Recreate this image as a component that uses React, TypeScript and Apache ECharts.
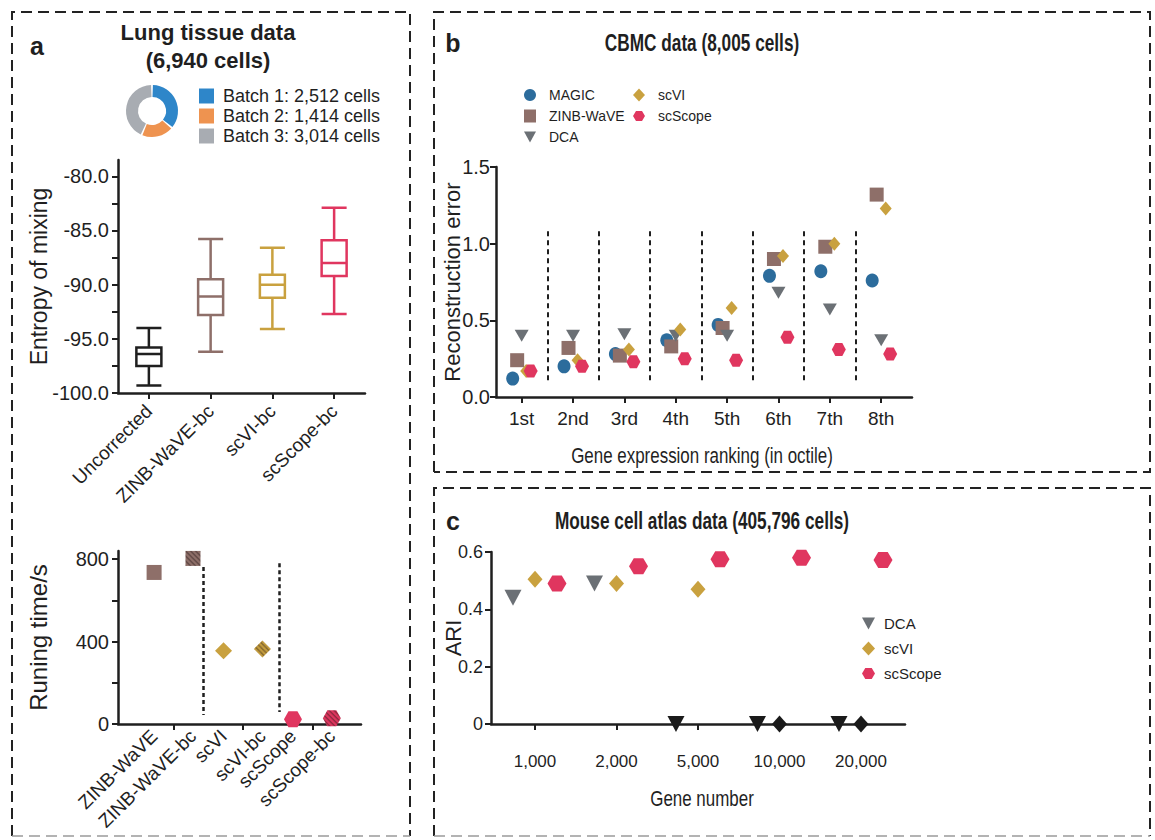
import React, { useEffect, useRef } from 'react';
import * as echarts from 'echarts';

const FONT = "'Liberation Sans', Arial, Helvetica, sans-serif";
const INK = '#1f1f1f';

// ---------- Panel a: batch donut ----------
const batchLabels = ['Batch 1: 2,512 cells', 'Batch 2: 1,414 cells', 'Batch 3: 3,014 cells'];
const batchCells = [2512, 1414, 3014];
const batchColors = ['#2E86C9', '#EE9350', '#A8ACB2'];

// ---------- Panel a: entropy of mixing boxplot [min, Q1, median, Q3, max] ----------
const boxCategories = ['Uncorrected', 'ZINB-WaVE-bc', 'scVI-bc', 'scScope-bc'];
const boxUncorrected = [-99.3, -97.5, -96.4, -95.8, -94.0];
const boxZinbBc = [-96.2, -92.8, -91.1, -89.5, -85.8];
const boxScviBc = [-94.1, -91.2, -90.0, -89.1, -86.6];
const boxScscopeBc = [-92.7, -89.2, -88.0, -85.9, -82.9];
const boxColors = ['#1f1f1f', '#8E6F69', '#C9A13F', '#E0365F'];
const entropyTickValues = [-100, -97.5, -95, -92.5, -90, -87.5, -85, -82.5, -80];
const entropyLabelValues = [-100, -95, -90, -85, -80];

// ---------- Panel a: running time ----------
const rtMethods = ['ZINB-WaVE', 'ZINB-WaVE-bc', 'scVI', 'scVI-bc', 'scScope', 'scScope-bc'];
const rtSeconds = [735, 803, 355, 364, 23, 28];
const rtTickValues = [0, 200, 400, 600, 800];
const rtLabelValues = [0, 400, 800];

// ---------- Panel b: CBMC reconstruction error ----------
const octiles = ['1st', '2nd', '3rd', '4th', '5th', '6th', '7th', '8th'];
const magicErr = [0.12, 0.2, 0.28, 0.37, 0.47, 0.79, 0.82, 0.76];
const zinbErr = [0.24, 0.32, 0.27, 0.33, 0.45, 0.9, 0.98, 1.32];
const dcaErr = [0.4, 0.4, 0.41, 0.4, 0.4, 0.68, 0.57, 0.37];
const scviErr = [0.17, 0.24, 0.31, 0.44, 0.58, 0.92, 1.0, 1.23];
const scscopeErr = [0.17, 0.2, 0.23, 0.25, 0.24, 0.39, 0.31, 0.28];
const errTicks = [0, 0.5, 1.0, 1.5];

// ---------- Panel c: mouse cell atlas ARI ----------
const geneNumbers = ['1,000', '2,000', '5,000', '10,000', '20,000'];
const dcaAri = [0.44, 0.49, 0, 0, 0];
const scviAri = [0.505, 0.49, 0.47, 0, 0];
const scscopeAri = [0.49, 0.55, 0.575, 0.58, 0.572];
const ariTicks = [0, 0.2, 0.4, 0.6];

// ---------- styles ----------
const TRI_DOWN = 'path://M0,0L12,0L6,11Z';
const HEX = 'path://M0,5L3,0L9,0L12,5L9,10L3,10Z';
const C_MAGIC = '#2C6C9C';
const C_ZINB = '#8E6F69';
const C_DCA = '#6B7075';
const C_SCVI = '#C9A13F';
const C_SCSCOPE = '#E0365F';
const ZERO_COLOR = '#1a1a1a';

// diagonal hatch; symbols are drawn in a [-1, 1] box scaled by size / 2,
// so the pattern is scaled back to screen pixels
function hatchPattern(base: string, stripe: string, size: number | number[]) {
  const w = Array.isArray(size) ? size[0] : size;
  const h = Array.isArray(size) ? size[1] : size;
  const c = document.createElement('canvas');
  c.width = 5;
  c.height = 5;
  const g = c.getContext('2d');
  if (!g) return base;
  g.fillStyle = base;
  g.fillRect(0, 0, 5, 5);
  g.strokeStyle = stripe;
  g.lineWidth = 1.1;
  g.beginPath();
  g.moveTo(-1, -1);
  g.lineTo(6, 6);
  g.moveTo(-1, 4);
  g.lineTo(1, 6);
  g.moveTo(4, -1);
  g.lineTo(6, 1);
  g.stroke();
  return {
    image: c,
    repeat: 'repeat',
    imageWidth: 5,
    imageHeight: 5,
    scaleX: 2 / w,
    scaleY: 2 / h,
  } as any;
}

const axisLineStyle = { show: true, lineStyle: { color: INK, width: 2.5 } };
const tickStyle = { show: true, length: 6, lineStyle: { color: INK, width: 2 } };

function buildOption() {
  const rtSide = 0.28;
  const rtPos = rtMethods.map((_, i) => Math.floor(i / 2) + 1 + (i % 2 === 0 ? -rtSide : rtSide));
  const rtColors = [C_ZINB, C_ZINB, C_SCVI, C_SCVI, C_SCSCOPE, C_SCSCOPE];
  const rtSymbols = ['rect', 'rect', 'diamond', 'diamond', HEX, HEX];
  const rtSizes: any[] = [15, 15, [17, 17], [17, 17], [18, 16], [18, 16]];
  const nearestRt = (v: number) => {
    let best = 0;
    rtPos.forEach((p, i) => {
      if (Math.abs(p - v) < Math.abs(rtPos[best] - v)) best = i;
    });
    return rtMethods[best];
  };

  const bSpec = [
    { name: 'MAGIC', vals: magicErr, symbol: 'circle', size: [13, 14], color: C_MAGIC },
    { name: 'ZINB-WaVE', vals: zinbErr, symbol: 'rect', size: [14, 14], color: C_ZINB },
    { name: 'DCA', vals: dcaErr, symbol: TRI_DOWN, size: [14, 12], color: C_DCA },
    { name: 'scVI', vals: scviErr, symbol: 'diamond', size: [12, 14], color: C_SCVI },
    { name: 'scScope', vals: scscopeErr, symbol: HEX, size: [14, 13], color: C_SCSCOPE },
  ];
  const bOffsets = [-0.175, -0.088, 0, 0.088, 0.175];

  const cSpec = [
    { name: 'DCA', vals: dcaAri, symbol: TRI_DOWN, size: [17, 16], color: C_DCA },
    { name: 'scVI', vals: scviAri, symbol: 'diamond', size: [15, 17], color: C_SCVI },
    { name: 'scScope', vals: scscopeAri, symbol: HEX, size: [19, 16], color: C_SCSCOPE },
  ];
  const cOffsets = [-0.27, 0, 0.27];

  const bSeparators = octiles.slice(1).map((_, i) => [
    { coord: [i + 1.5, 0.11] },
    { coord: [i + 1.5, 1.1] },
  ]);

  const text = (t: string, x: number, y: number, size: number, weight = 'normal', scaleX = 1) => ({
    type: 'text',
    x,
    y,
    scaleX,
    silent: true,
    style: {
      text: t,
      fontSize: size,
      fontFamily: FONT,
      fontWeight: weight,
      fill: INK,
      align: 'center',
      verticalAlign: 'middle',
      textAlign: 'center',
      textVerticalAlign: 'middle',
    },
  });

  const dashed = (pts: number[][], color = '#222', width = 2) => ({
    type: 'polyline',
    silent: true,
    shape: { points: pts },
    style: { stroke: color, lineWidth: width, lineDash: [11, 6], fill: null },
  });

  return {
    animation: false,
    backgroundColor: '#fff',
    textStyle: { fontFamily: FONT, color: INK },
    grid: [
      { left: 118, top: 160, width: 247, height: 233 },
      { left: 118, top: 551, width: 243, height: 173 },
      { left: 496, top: 167, width: 416, height: 230 },
      { left: 491, top: 552, width: 414, height: 172 },
    ],
    xAxis: [
      {
        gridIndex: 0,
        type: 'category',
        data: boxCategories,
        axisLine: axisLineStyle,
        axisTick: { ...tickStyle, alignWithLabel: true },
        axisLabel: { rotate: 45, interval: 0, fontSize: 19, margin: 15, color: INK, fontFamily: FONT },
        splitLine: { show: false },
      },
      {
        gridIndex: 1,
        type: 'value',
        min: 0.2,
        max: 3.7,
        axisLine: axisLineStyle,
        axisTick: { ...tickStyle, customValues: [1, 2, 3] },
        axisLabel: {
          customValues: rtPos,
          rotate: 45,
          fontSize: 19,
          margin: 9,
          color: INK,
          fontFamily: FONT,
          formatter: (v: number) => nearestRt(v),
        },
        splitLine: { show: false },
      },
      {
        gridIndex: 2,
        type: 'value',
        min: 0.5,
        max: 8.6,
        axisLine: axisLineStyle,
        axisTick: { ...tickStyle, customValues: octiles.map((_, i) => i + 1) },
        axisLabel: {
          customValues: octiles.map((_, i) => i + 1),
          fontSize: 19,
          margin: 12,
          color: INK,
          fontFamily: FONT,
          formatter: (v: number) => octiles[Math.round(v) - 1] ?? '',
        },
        splitLine: { show: false },
      },
      {
        gridIndex: 3,
        type: 'value',
        min: 0.46,
        max: 5.54,
        axisLine: axisLineStyle,
        axisTick: { ...tickStyle, customValues: geneNumbers.map((_, i) => i + 1) },
        axisLabel: {
          customValues: geneNumbers.map((_, i) => i + 1),
          fontSize: 17,
          margin: 29,
          color: INK,
          fontFamily: FONT,
          formatter: (v: number) => geneNumbers[Math.round(v) - 1] ?? '',
        },
        splitLine: { show: false },
      },
    ],
    yAxis: [
      {
        gridIndex: 0,
        type: 'value',
        min: -100,
        max: -78.5,
        axisLine: axisLineStyle,
        axisTick: { ...tickStyle, customValues: entropyTickValues },
        axisLabel: {
          customValues: entropyLabelValues,
          fontSize: 20,
          margin: 9,
          color: INK,
          fontFamily: FONT,
          formatter: (v: number) => v.toFixed(1),
        },
        splitLine: { show: false },
        name: 'Entropy of mixing',
        nameLocation: 'middle',
        nameGap: 68,
        nameMoveOverlap: false,
        nameTextStyle: { fontSize: 23, fontFamily: FONT, color: INK },
      },
      {
        gridIndex: 1,
        type: 'value',
        min: 0,
        max: 839,
        axisLine: axisLineStyle,
        axisTick: { ...tickStyle, customValues: rtTickValues },
        axisLabel: {
          customValues: rtLabelValues,
          fontSize: 20,
          margin: 9,
          color: INK,
          fontFamily: FONT,
        },
        splitLine: { show: false },
        name: 'Runing time/s',
        nameLocation: 'middle',
        nameGap: 68,
        nameMoveOverlap: false,
        nameTextStyle: { fontSize: 24, fontFamily: FONT, color: INK },
      },
      {
        gridIndex: 2,
        type: 'value',
        min: 0,
        max: 1.5,
        axisLine: axisLineStyle,
        axisTick: { ...tickStyle, customValues: errTicks },
        axisLabel: {
          customValues: errTicks,
          fontSize: 20,
          margin: 6,
          color: INK,
          fontFamily: FONT,
          formatter: (v: number) => v.toFixed(1),
        },
        splitLine: { show: false },
        name: 'Reconstruction error',
        nameLocation: 'middle',
        nameGap: 33,
        nameMoveOverlap: false,
        nameTextStyle: { fontSize: 22, fontFamily: FONT, color: INK },
      },
      {
        gridIndex: 3,
        type: 'value',
        min: 0,
        max: 0.6,
        axisLine: axisLineStyle,
        axisTick: { ...tickStyle, customValues: ariTicks },
        axisLabel: {
          customValues: ariTicks,
          fontSize: 18,
          margin: 8,
          color: INK,
          fontFamily: FONT,
          formatter: (v: number) => (v === 0 ? '0' : v.toFixed(1)),
        },
        splitLine: { show: false },
        name: 'ARI',
        nameLocation: 'middle',
        nameGap: 27,
        nameMoveOverlap: false,
        nameTextStyle: { fontSize: 22, fontFamily: FONT, color: INK },
      },
    ],
    legend: [
      {
        data: batchLabels,
        orient: 'vertical',
        left: 194,
        top: 82,
        itemWidth: 15,
        itemHeight: 15,
        itemGap: 2,
        icon: 'rect',
        selectedMode: false,
        textStyle: { fontFamily: FONT, fontSize: 18, color: INK, padding: [0, 0, 0, 4] },
      },
      {
        data: ['MAGIC', 'ZINB-WaVE', 'DCA'],
        orient: 'vertical',
        left: 519,
        top: 83,
        itemWidth: 12,
        itemHeight: 13,
        itemGap: 7,
        selectedMode: false,
        textStyle: { fontFamily: FONT, fontSize: 14, color: INK, padding: [0, 0, 0, 8] },
      },
      {
        data: ['scVI', 'scScope'],
        orient: 'vertical',
        left: 628,
        top: 83,
        itemWidth: 12,
        itemHeight: 13,
        itemGap: 7,
        selectedMode: false,
        textStyle: { fontFamily: FONT, fontSize: 14, color: INK, padding: [0, 0, 0, 8] },
      },
      {
        data: ['DCA', 'scVI', 'scScope'],
        orient: 'vertical',
        left: 857,
        top: 611,
        itemWidth: 13,
        itemHeight: 14,
        itemGap: 10,
        selectedMode: false,
        textStyle: { fontFamily: FONT, fontSize: 15, color: INK, padding: [0, 0, 0, 4] },
      },
    ],
    graphic: [
      // dashed panel borders
      dashed([[12, 836], [12, 12], [410, 12], [410, 836]]),
      dashed([[12, 836], [410, 836]], '#9a9a9a', 1.5),
      dashed([[434, 472], [434, 12], [1150, 12], [1150, 472], [434, 472]]),
      dashed([[434, 836], [434, 488], [1150, 488], [1150, 836]]),
      dashed([[434, 836], [1150, 836]], '#9a9a9a', 1.5),
      // panel letters & titles
      text('a', 37, 46, 25, 'bold'),
      text('Lung tissue data', 208, 32, 22, 'bold'),
      text('(6,940 cells)', 208, 60, 22, 'bold'),
      text('b', 453, 43, 25, 'bold'),
      text('CBMC data (8,005 cells)', 702, 43, 23, 'bold', 0.75),
      text('c', 453, 521, 25, 'bold'),
      text('Mouse cell atlas data (405,796 cells)', 702, 521, 23, 'bold', 0.75),
      // x-axis titles of panels b and c
      text('Gene expression ranking (in octile)', 702, 455, 22, 'normal', 0.77),
      text('Gene number', 702, 798, 22, 'normal', 0.77),
    ],
    series: [
      {
        type: 'pie',
        silent: true,
        center: [152, 111],
        radius: [14, 26],
        startAngle: 90,
        clockwise: true,
        padAngle: 4,
        label: { show: false },
        labelLine: { show: false },
        data: batchLabels.map((n, i) => ({
          name: n,
          value: batchCells[i],
          itemStyle: { color: batchColors[i] },
        })),
      },
      {
        type: 'boxplot',
        name: 'Entropy',
        silent: true,
        xAxisIndex: 0,
        yAxisIndex: 0,
        boxWidth: [25, 25],
        data: [boxUncorrected, boxZinbBc, boxScviBc, boxScscopeBc].map((s, i) => ({
          value: s,
          itemStyle: { color: '#fff', borderColor: boxColors[i], borderWidth: 2.5 },
        })),
      },
      {
        type: 'scatter',
        name: 'runtime',
        silent: true,
        xAxisIndex: 1,
        yAxisIndex: 1,
        data: rtSeconds.map((v, i) => ({
          value: [rtPos[i], v],
          symbol: rtSymbols[i],
          symbolSize: rtSizes[i],
          itemStyle: {
            color:
              i % 2 === 1
                ? hatchPattern(rtColors[i], 'rgba(40,25,25,0.6)', rtSizes[i])
                : rtColors[i],
            opacity: 1,
          },
        })),
        markLine: {
          silent: true,
          symbol: ['none', 'none'],
          label: { show: false },
          lineStyle: { color: INK, width: 2.5, type: [4, 3] },
          data: [
            [{ coord: [1.43, 761] }, { coord: [1.43, 44] }],
            [{ coord: [2.52, 780] }, { coord: [2.52, 58] }],
          ],
        },
      },
      ...bSpec.map((s, k) => ({
        type: 'scatter',
        name: s.name,
        silent: true,
        xAxisIndex: 2,
        yAxisIndex: 2,
        symbol: s.symbol,
        symbolSize: s.size,
        itemStyle: { color: s.color, opacity: 1 },
        data: s.vals.map((v, i) => [i + 1 + bOffsets[k], v]),
        ...(k === 0
          ? {
              markLine: {
                silent: true,
                symbol: ['none', 'none'],
                label: { show: false },
                lineStyle: { color: INK, width: 2, type: [5, 4] },
                data: bSeparators,
              },
            }
          : {}),
      })),
      ...cSpec.map((s, k) => ({
        type: 'scatter',
        name: s.name,
        silent: true,
        xAxisIndex: 3,
        yAxisIndex: 3,
        symbol: s.symbol,
        symbolSize: s.size,
        itemStyle: { color: s.color, opacity: 1 },
        data: s.vals.map((v, i) =>
          v === 0
            ? { value: [i + 1 + cOffsets[k], v], itemStyle: { color: ZERO_COLOR } }
            : { value: [i + 1 + cOffsets[k], v] }
        ),
      })),
    ],
  };
}

export default function App() {
  const ref = useRef<HTMLDivElement>(null);
  useEffect(() => {
    document.body.style.margin = '0';
    if (!ref.current) return;
    const chart = echarts.init(ref.current, null, { renderer: 'svg' });
    chart.setOption(buildOption() as any);
    return () => chart.dispose();
  }, []);
  return <div ref={ref} style={{ width: 1155, height: 840, background: '#fff' }} />;
}
